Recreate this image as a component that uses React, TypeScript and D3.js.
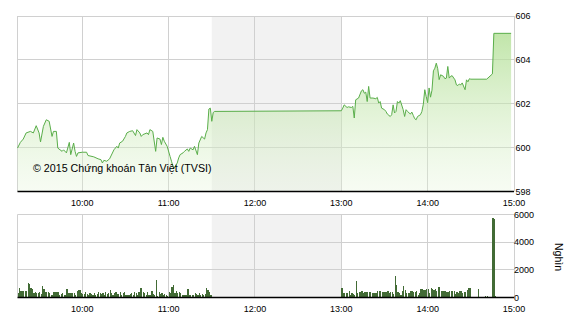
import React from "react";
import * as d3 from "d3";

// Intraday index (price) and matched volume (thousands of shares)
const priceSeries: [string, number][] = [
  ["09:15", 599.98], ["09:17", 600.24], ["09:19", 600.39], ["09:21", 600.67], ["09:24", 600.74],
  ["09:26", 600.67], ["09:28", 601.0], ["09:30", 600.67], ["09:31", 600.26], ["09:33", 600.97],
  ["09:35", 601.27], ["09:37", 601.2], ["09:39", 600.51], ["09:40", 600.74], ["09:42", 600.74],
  ["09:43", 599.98], ["09:46", 599.83], ["09:47", 599.9], ["09:49", 599.76], ["09:51", 600.24],
  ["09:52", 599.68], ["09:54", 600.21], ["09:55", 599.83], ["09:56", 599.6], ["09:57", 599.76],
  ["10:00", 599.79], ["10:03", 599.79], ["10:04", 599.64], ["10:08", 599.58], ["10:11", 599.49],
  ["10:13", 599.45], ["10:14", 599.3], ["10:15", 599.42], ["10:17", 599.38], ["10:19", 599.49],
  ["10:22", 599.9], ["10:23", 599.98], ["10:24", 600.06], ["10:25", 599.98], ["10:26", 600.21],
  ["10:28", 600.29], ["10:30", 600.51], ["10:31", 600.67], ["10:33", 600.74], ["10:35", 600.77],
  ["10:37", 600.55], ["10:38", 600.82], ["10:40", 600.67], ["10:41", 600.51], ["10:42", 600.59],
  ["10:45", 600.67], ["10:46", 600.59], ["10:47", 600.82], ["10:49", 600.74], ["10:51", 599.83],
  ["10:52", 600.44], ["10:54", 600.39], ["10:55", 600.14], ["10:56", 600.47], ["10:57", 600.29],
  ["10:59", 600.06], ["11:01", 599.6], ["11:02", 599.38], ["11:03", 599.15], ["11:04", 599.08],
  ["11:06", 599.3], ["11:07", 599.53], ["11:08", 599.68], ["11:10", 599.76], ["11:11", 599.83],
  ["11:13", 599.94], ["11:14", 599.83], ["11:15", 599.98], ["11:17", 599.9], ["11:18", 600.06],
  ["11:20", 599.68], ["11:21", 600.21], ["11:23", 600.51], ["11:25", 600.39], ["11:26", 600.67],
  ["11:27", 600.82], ["11:28", 601.76], ["11:29", 601.8], ["11:30", 601.2], ["11:31", 601.6],
  ["11:32", 601.65],
  ["13:00", 601.68], ["13:01", 601.8], ["13:02", 601.95], ["13:04", 601.83], ["13:05", 601.86],
  ["13:07", 601.83], ["13:08", 601.88], ["13:09", 601.35], ["13:10", 602.18], ["13:12", 602.26],
  ["13:14", 602.59], ["13:15", 602.64], ["13:16", 602.48], ["13:17", 602.53], ["13:18", 602.1],
  ["13:19", 602.79], ["13:20", 602.26], ["13:22", 602.26], ["13:24", 602.23], ["13:25", 602.29],
  ["13:26", 602.03], ["13:27", 602.1], ["13:28", 601.8], ["13:30", 601.73], ["13:31", 601.65],
  ["13:32", 601.53], ["13:34", 601.42], ["13:35", 601.5], ["13:36", 601.95], ["13:37", 601.58],
  ["13:38", 601.65], ["13:39", 602.1], ["13:40", 602.03], ["13:41", 602.14], ["13:43", 601.73],
  ["13:44", 601.42], ["13:45", 601.73], ["13:46", 601.65], ["13:48", 601.53], ["13:49", 601.62],
  ["13:50", 601.47], ["13:51", 601.32], ["13:52", 601.27], ["13:53", 601.42], ["13:55", 601.5],
  ["13:56", 601.65], ["13:57", 601.98], ["13:58", 602.64], ["13:59", 602.33], ["14:00", 602.05],
  ["14:01", 602.72], ["14:02", 602.3], ["14:03", 602.62], ["14:04", 603.5], ["14:05", 603.62],
  ["14:06", 603.85], ["14:07", 603.6], ["14:08", 603.1], ["14:09", 603.32], ["14:11", 603.25],
  ["14:12", 603.14], ["14:13", 603.17], ["14:14", 603.7], ["14:15", 603.17], ["14:16", 603.25],
  ["14:17", 603.28], ["14:19", 603.09], ["14:20", 602.86], ["14:21", 602.83], ["14:22", 602.9],
  ["14:23", 602.86], ["14:24", 602.95], ["14:26", 602.64], ["14:27", 603.09], ["14:28", 603.0],
  ["14:29", 603.14], ["14:30", 603.12], ["14:41", 603.12], ["14:45", 603.36], ["14:46", 605.21],
  ["14:58", 605.21],
];

// One bar per minute, morning session starting 09:15
const morningStart = "09:15";
const morningVolume: number[] = [
  350, 700, 460, 460, 460, 460, 460, 1050, 960, 680,
  630, 290, 380, 310, 310, 380, 280, 820, 580, 430,
  380, 430, 290, 200, 200, 380, 380, 380, 380, 200,
  240, 330, 150, 180, 600, 290, 310, 310, 310, 310,
  190, 480, 530, 520, 340, 250, 220, 380, 260, 200,
  300, 230, 180, 330, 200, 260, 400, 300, 250, 350,
  200, 420, 280, 330, 530, 290, 200, 290, 430, 220,
  280, 385, 200, 290, 385, 200, 190, 190, 230, 290,
  150, 430, 330, 200, 385, 720, 670, 430, 290, 190,
  385, 190, 150, 480, 260, 190, 1300, 130, 380, 240,
  290, 200, 240, 190, 140, 385, 300, 770, 870, 290,
  480, 330, 380, 290, 190, 190, 150, 200, 580, 190,
  150, 160, 190, 290, 240, 190, 350, 190, 250, 150,
  240, 670, 530, 380, 150,
];

// One bar per minute, afternoon session starting 13:00
const afternoonStart = "13:00";
const afternoonVolume: number[] = [
  720, 300, 300, 300, 300, 470, 200, 350, 250, 200,
  1210, 300, 420, 420, 490, 300, 400, 400, 400, 390,
  390, 350, 350, 350, 300, 440, 440, 440, 400, 400,
  400, 400, 440, 300, 390, 390, 250, 1580, 890, 400,
  350, 200, 490, 860, 540, 350, 350, 350, 440, 440,
  400, 400, 440, 200, 350, 590, 590, 540, 540, 640,
  640, 300, 690, 640, 540, 590, 440, 790, 790, 440,
  440, 440, 440, 400, 400, 440, 440, 440, 440, 250,
  400, 350, 440, 440, 300, 400, 400, 540, 670, 670,
  0, 0, 0, 0, 0, 590, 0, 0, 0, 0,
  100, 100, 50, 50, 0, 5760, 5680, 100, 0, 0,
  0, 0, 0, 0, 0, 0, 0, 0, 0, 60,
];

const timeTicks = ["10:00", "11:00", "12:00", "13:00", "14:00", "15:00"];
const priceTicks = [598, 600, 602, 604, 606];
const volumeTicks = [0, 2000, 4000, 6000];
const breakStart = "11:30";
const breakEnd = "13:00";
const sessionOpen = "09:15";
const sessionClose = "15:00";
const copyright = "© 2015 Chứng khoán Tân Việt (TVSI)";
const volumeUnit = "Nghìn";

const toMin = (s: string) => {
  const [h, m] = s.split(":").map(Number);
  return h * 60 + m;
};

const FONT = "'Liberation Sans', Arial, sans-serif";
const px = (v: number) => Math.floor(v) + 0.5;

export default function App() {
  const plotLeft = 17.5;
  const plotRight = 514;
  const priceTop = 16;
  const priceBottom = 191.5;
  const volTop = 214.5;
  const volBottom = 297.5;

  const x = d3
    .scaleLinear()
    .domain([toMin(sessionOpen), toMin(sessionClose)])
    .range([plotLeft, plotRight]);
  const yP = d3.scaleLinear().domain([598, 606]).range([priceBottom, priceTop]);
  const yV = d3.scaleLinear().domain([0, 6000]).range([volBottom, volTop]);

  const pts = priceSeries.map(([t, v]) => ({ t: toMin(t), v }));
  const area = d3
    .area<{ t: number; v: number }>()
    .x((d) => x(d.t))
    .y0(priceBottom)
    .y1((d) => yP(d.v));
  const line = d3
    .line<{ t: number; v: number }>()
    .x((d) => x(d.t))
    .y((d) => yP(d.v));

  const bars = [
    ...morningVolume.map((v, i) => ({ t: toMin(morningStart) + i, v })),
    ...afternoonVolume.map((v, i) => ({ t: toMin(afternoonStart) + i, v })),
  ].filter((d) => d.v > 0);

  const bx0 = x(toMin(breakStart));
  const bx1 = x(toMin(breakEnd));
  const gridColor = "#d0d0d0";

  const xl = px(plotLeft);
  const xr = px(plotRight);

  return (
    <svg
      width={570}
      height={320}
      style={{ position: "absolute", left: 0, top: 0, background: "#fff" }}
      fontFamily={FONT}
    >
      <defs>
        <linearGradient id="priceFill" gradientUnits="userSpaceOnUse" x1="0" y1={priceTop} x2="0" y2={priceBottom}>
          <stop offset="0" stopColor="rgb(168,219,136)" stopOpacity={0.82} />
          <stop offset="1" stopColor="rgb(228,244,216)" stopOpacity={0.3} />
        </linearGradient>
      </defs>

      {/* lunch break shading */}
      <rect x={bx0} y={priceTop} width={bx1 - bx0} height={priceBottom - priceTop} fill="#f2f2f2" />
      <rect x={bx0} y={volTop} width={bx1 - bx0} height={volBottom - volTop} fill="#f2f2f2" />

      {/* price grid */}
      {priceTicks.slice(1).map((p) => (
        <line key={"pg" + p} x1={xl} x2={xr} y1={px(yP(p))} y2={px(yP(p))} stroke={gridColor} />
      ))}
      {timeTicks.map((t) => (
        <line key={"pv" + t} x1={px(x(toMin(t)))} x2={px(x(toMin(t)))} y1={priceTop} y2={priceBottom} stroke={gridColor} />
      ))}
      <line x1={xl} x2={xl} y1={priceTop} y2={priceBottom} stroke={gridColor} />

      {/* volume grid */}
      {volumeTicks.slice(1).map((v) => (
        <line key={"vg" + v} x1={xl} x2={xr} y1={px(yV(v))} y2={px(yV(v))} stroke={gridColor} />
      ))}
      {timeTicks.map((t) => (
        <line key={"vv" + t} x1={px(x(toMin(t)))} x2={px(x(toMin(t)))} y1={volTop} y2={volBottom} stroke={gridColor} />
      ))}
      <line x1={xl} x2={xl} y1={volTop} y2={volBottom} stroke={gridColor} />

      {/* price area and line */}
      <path d={area(pts) || ""} fill="url(#priceFill)" />
      <path d={line(pts) || ""} fill="none" stroke="#5aae4a" strokeWidth={1} />

      {/* volume bars */}
      {bars.map((d, i) => (
        <rect
          key={"b" + i}
          x={x(d.t)}
          y={yV(d.v)}
          width={1.2}
          height={yV(0) - yV(d.v)}
          fill="#426b35"
          shapeRendering="crispEdges"
        />
      ))}

      {/* axis baselines */}
      <line x1={plotLeft} x2={plotRight} y1={191.5} y2={191.5} stroke="#000" strokeWidth={1.4} />
      <line x1={plotLeft} x2={plotRight} y1={297.5} y2={297.5} stroke="#000" strokeWidth={1.4} />

      {/* time labels */}
      {timeTicks.map((t) => (
        <text key={"tl" + t} x={x(toMin(t))} y={206} fontSize={9} textAnchor="middle" fill="#000">
          {t}
        </text>
      ))}
      {timeTicks.map((t) => (
        <text key={"bl" + t} x={x(toMin(t))} y={311.5} fontSize={9} textAnchor="middle" fill="#000">
          {t}
        </text>
      ))}

      {/* right value axes */}
      {priceTicks.map((p) => (
        <text key={"pl" + p} x={515.5} y={yP(p) + 3.3} fontSize={9} fill="#000">
          {p}
        </text>
      ))}
      {volumeTicks.map((v) => (
        <text key={"vl" + v} x={514} y={yV(v) + 3.3} fontSize={9} fill="#000">
          {v}
        </text>
      ))}
      <text
        transform="translate(559,257) rotate(90)"
        fontSize={10.5}
        textAnchor="middle"
        dominantBaseline="central"
        fill="#000"
      >
        {volumeUnit}
      </text>

      <text x={33} y={172.3} fontSize={10.7} fill="#000">
        {copyright}
      </text>
    </svg>
  );
}
